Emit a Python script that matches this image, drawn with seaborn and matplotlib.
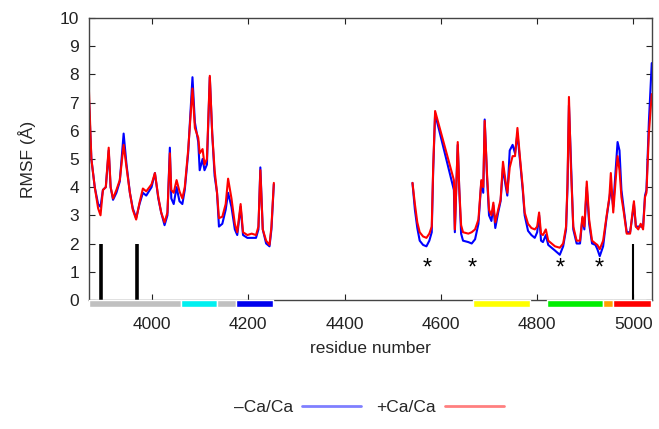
import numpy as np
import pandas as pd
import matplotlib
matplotlib.use("Agg")
import matplotlib.pyplot as plt
from matplotlib.lines import Line2D
import seaborn as sns

# RMSF per residue (two separate modelled segments)
res_a = [3869, 3874, 3881, 3888, 3893, 3898, 3904, 3910, 3914, 3919, 3926, 3933, 3941, 3947,
         3954, 3960, 3967, 3974, 3981, 3988, 3999, 4006, 4013, 4019, 4026, 4032, 4037, 4040,
         4045, 4051, 4057, 4063, 4068, 4075, 4084, 4089, 4096, 4099, 4105, 4109, 4114, 4120,
         4125, 4130, 4135, 4139, 4146, 4153, 4158, 4165, 4172, 4177, 4184, 4189, 4198, 4207,
         4216, 4221, 4225, 4230, 4237, 4244, 4248, 4253]
plus_a = [7.4, 5.0, 4.0, 3.25, 3.0, 3.9, 4.0, 5.4, 4.0, 3.6, 3.9, 4.25, 5.5, 4.7,
          3.8, 3.2, 2.85, 3.45, 3.95, 3.85, 4.1, 4.5, 3.65, 3.1, 2.75, 3.1, 5.2, 3.9,
          3.8, 4.25, 3.85, 3.6, 4.0, 5.3, 7.5, 6.1, 5.75, 5.2, 5.35, 4.8, 5.0, 7.95,
          5.9, 4.6, 3.8, 2.9, 2.95, 3.4, 4.3, 3.6, 2.7, 2.4, 3.4, 2.4, 2.3, 2.35,
          2.3, 2.6, 4.6, 2.5, 2.1, 1.95, 2.6, 4.15]
minus_a = [7.1, 5.0, 4.0, 3.4, 3.3, 3.9, 4.0, 5.3, 4.0, 3.55, 3.8, 4.2, 5.9, 4.8,
           3.8, 3.25, 2.9, 3.4, 3.8, 3.7, 4.0, 4.5, 3.6, 3.1, 2.65, 3.0, 5.4, 3.6,
           3.4, 4.0, 3.5, 3.4, 3.9, 5.2, 7.9, 6.3, 5.6, 4.6, 5.0, 4.6, 4.8, 7.9,
           5.9, 4.4, 3.8, 2.6, 2.7, 3.2, 3.8, 3.3, 2.5, 2.3, 3.3, 2.3, 2.2, 2.2,
           2.2, 2.5, 4.7, 2.5, 2.0, 1.9, 2.5, 4.1]

res_b = [4541, 4546, 4551, 4556, 4563, 4570, 4576, 4581, 4584, 4588, 4627, 4629, 4632, 4635,
         4638, 4642, 4646, 4657, 4664, 4671, 4678, 4684, 4688, 4691, 4696, 4700, 4705, 4709,
         4713, 4719, 4724, 4729, 4734, 4738, 4743, 4749, 4754, 4759, 4764, 4770, 4774, 4781,
         4788, 4795, 4800, 4804, 4808, 4812, 4818, 4823, 4830, 4837, 4847, 4854, 4860, 4863,
         4866, 4870, 4875, 4882, 4889, 4894, 4898, 4903, 4908, 4914, 4921, 4925, 4930, 4937,
         4944, 4950, 4953, 4958, 4963, 4967, 4971, 4975, 4980, 4986, 4993, 4998, 5001, 5005,
         5010, 5015, 5020, 5024, 5027, 5032, 5038]
plus_b = [4.15, 3.4, 2.75, 2.4, 2.25, 2.2, 2.35, 2.6, 4.7, 6.7, 4.25, 2.5, 4.0, 5.6,
          4.0, 2.65, 2.4, 2.35, 2.4, 2.5, 2.85, 4.25, 4.0, 6.35, 4.4, 3.2, 3.0, 3.45,
          2.75, 3.2, 3.55, 4.9, 4.25, 3.8, 4.7, 5.1, 5.1, 6.1, 5.1, 4.0, 3.1, 2.7,
          2.55, 2.5, 2.6, 3.1, 2.35, 2.3, 2.5, 2.1, 2.0, 1.9, 1.85, 2.0, 2.6, 4.15,
          7.2, 4.75, 2.6, 2.1, 2.1, 2.95, 2.6, 4.2, 2.85, 2.1, 2.0, 1.95, 1.8, 2.1,
          2.95, 3.65, 4.5, 3.1, 4.25, 5.1, 4.6, 3.65, 3.1, 2.35, 2.35, 3.1, 3.5, 2.6,
          2.5, 2.7, 2.5, 3.65, 3.8, 5.9, 7.3]
minus_b = [4.15, 3.2, 2.55, 2.1, 1.95, 1.9, 2.1, 2.4, 4.6, 6.6, 3.9, 2.4, 4.0, 5.5,
           4.0, 2.35, 2.1, 2.05, 2.0, 2.15, 2.7, 4.2, 3.8, 6.4, 4.3, 3.0, 2.8, 3.35,
           2.55, 3.1, 3.5, 4.7, 4.1, 3.7, 5.3, 5.5, 5.2, 5.9, 5.0, 3.9, 3.0, 2.45,
           2.3, 2.2, 2.4, 3.0, 2.1, 2.05, 2.3, 1.95, 1.85, 1.75, 1.6, 1.9, 2.5, 4.0,
           6.9, 5.0, 2.5, 2.0, 2.0, 2.9, 2.5, 4.0, 2.7, 2.0, 1.95, 1.8, 1.55, 1.9,
           2.9, 3.6, 4.0, 3.3, 4.6, 5.6, 5.3, 3.9, 3.2, 2.4, 2.4, 3.0, 3.4, 2.6,
           2.6, 2.6, 2.6, 3.7, 3.9, 6.3, 8.4]

# domain bar under the axis
dom_start = [3869, 4060, 4135, 4175, 4667, 4821, 4937, 4958]
dom_end = [4060, 4135, 4175, 4252, 4785, 4937, 4958, 5037]
dom_color = ['#c0c0c0', '#00f0f0', '#c0c0c0', '#0000ee', '#ffff00', '#00ee00', '#ffa000', '#ff0000']

# black markers (residue, width in pt) and asterisks
mark_res = [3894, 3969, 5000]
mark_lw = [2.6, 2.6, 1.5]
star_res = [4571, 4665, 4848, 4929]

rows = []
for seg, (xs, ys) in enumerate([(res_a, minus_a), (res_b, minus_b)]):
    rows += [{'res': x, 'rmsf': y, 'cond': '-Ca/Ca', 'seg': seg} for x, y in zip(xs, ys)]
for seg, (xs, ys) in enumerate([(res_a, plus_a), (res_b, plus_b)]):
    rows += [{'res': x, 'rmsf': y, 'cond': '+Ca/Ca', 'seg': seg} for x, y in zip(xs, ys)]
df = pd.DataFrame(rows)

sns.set_theme(style="ticks")
plt.rcParams['font.family'] = ['Liberation Sans', 'DejaVu Sans']

fig = plt.figure(figsize=(6.59, 4.29), dpi=100)
ax = fig.add_axes([0.135, 0.301, 0.854, 0.657])

pal = {'-Ca/Ca': '#0000ff', '+Ca/Ca': '#ff0000'}
sns.lineplot(data=df, x='res', y='rmsf', hue='cond', units='seg', estimator=None,
             sort=False, palette=pal, lw=1.5, ax=ax, legend=False)

for xm, lw in zip(mark_res, mark_lw):
    ax.plot([xm, xm], [0, 2], color='black', lw=lw, solid_capstyle='butt')
for xs in star_res:
    ax.text(xs, 1.12, '*', ha='center', va='center', fontsize=17, color='black')

ax.broken_barh([(s, e - s) for s, e in zip(dom_start, dom_end)], (-0.24, 0.22),
               facecolors=dom_color, clip_on=False, zorder=5)

ax.set_xlim(3869, 5038)
ax.set_ylim(0, 10)
ax.set_xticks(range(4000, 5001, 200))
ax.set_yticks(range(0, 11))
ax.tick_params(direction='in', top=True, right=True, length=4, width=0.8,
               labelsize=12.5, colors='#222222')
ax.tick_params(axis='x', pad=12)
ax.tick_params(axis='y', pad=7)
for sp in ax.spines.values():
    sp.set_color('#444444')
    sp.set_linewidth(1.0)
ax.set_xlabel('residue number', fontsize=12.5, labelpad=7)
ax.set_ylabel('RMSF (Å)', fontsize=12.5, labelpad=17)

handles = [Line2D([], [], color='#0000ff', alpha=0.5, lw=2),
           Line2D([], [], color='#ff0000', alpha=0.5, lw=2)]
fig.legend(handles, ['\u2013Ca/Ca', '+Ca/Ca'], loc='center', bbox_to_anchor=(0.56, 0.05),
           ncol=2, frameon=False, markerfirst=False, fontsize=12.5, handlelength=3.4,
           columnspacing=0.9, handletextpad=0.5)

fig.savefig('out.png', dpi=100)
